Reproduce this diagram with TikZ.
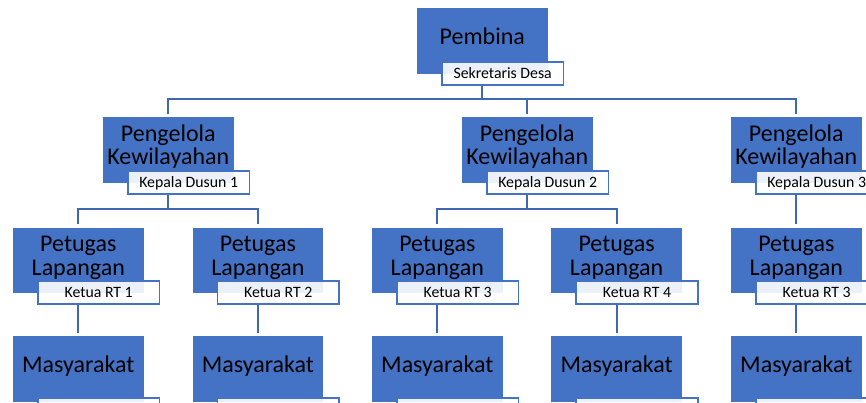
\documentclass[tikz,border=0pt]{standalone}
\usepackage{fontspec}
\setmainfont{Carlito}
\definecolor{boxblue}{HTML}{4472C4}
\definecolor{lineblue}{HTML}{4068B2}

% one unit of the chart: blue box, its title and the white tag below it
% #1 name, #2 x, #3 y (top left), #4 title, #5 offset of the title's last baseline,
% #6 tag text, #7 tag offset from the box top
\newcommand\orgunit[7]{%
  \node[unit] (#1) at (#2,#3) {};
  \node[ttl] (#1t) at ([yshift=-#5pt]#1.north) {#4};
  \node[tag] (#1l) at ([xshift=24.3pt,yshift=-#7pt]#1.north west) {#6};
}

\begin{document}
\begin{tikzpicture}[x=1pt,y=-1pt,
  unit/.style={fill=boxblue, draw=none, minimum width=130.8pt,
    minimum height=65.5pt, inner sep=0pt, anchor=north west},
  ttl/.style={font=\fontsize{24}{23.4}\selectfont, align=center,
    anchor=base, inner sep=0pt, text=black},
  tag/.style={fill=white, fill opacity=0.9, text opacity=1, draw=boxblue,
    line width=1.8pt, minimum width=121.5pt, minimum height=23pt,
    inner sep=0pt, anchor=north west, text height=11.4pt, text depth=1pt,
    font=\fontsize{15.8}{18}\selectfont},
  conn/.style={draw=lineblue, line width=2pt}]

\useasboundingbox (0,0) rectangle (866,403);
\clip (0,0) rectangle (866,403);

% top
\orgunit{pem}{416.7}{8.3}{Pembina}{36.7}{Sekretaris Desa}{52.5}

% second row
\orgunit{pg1}{102.7}{117.3}{Pengelola\\Kewilayahan}{47.7}{Kepala Dusun 1}{52.5}
\orgunit{pg2}{461.7}{117.3}{Pengelola\\Kewilayahan}{47.7}{Kepala Dusun 2}{52.5}
\orgunit{pg3}{730.7}{117.3}{Pengelola\\Kewilayahan}{47.7}{Kepala Dusun 3}{52.5}

% third row
\orgunit{pt1}{12.7}{227.3}{Petugas\\Lapangan}{47.7}{Ketua RT 1}{52.5}
\orgunit{pt2}{192.3}{227.3}{Petugas\\Lapangan}{47.7}{Ketua RT 2}{52.5}
\orgunit{pt3}{371.7}{227.3}{Petugas\\Lapangan}{47.7}{Ketua RT 3}{52.5}
\orgunit{pt4}{551}{227.3}{Petugas\\Lapangan}{47.7}{Ketua RT 4}{52.5}
\orgunit{pt5}{730.7}{227.3}{Petugas\\Lapangan}{47.7}{Ketua RT 3}{52.5}

% bottom row
\foreach \i/\x in {1/12.7,2/192.3,3/371.7,4/551,5/730.7}{
  \orgunit{ms\i}{\x}{336}{Masyarakat}{36.7}{}{61.3}
}

% connectors
\coordinate (b0) at (0,99);
\coordinate (b1) at (0,209);

\draw[conn] (pem.center |- peml.south) -- (pem.center |- b0);
\draw[conn] ([yshift=3pt]pg1.north) -- (pg1.north |- b0)
  -- (pg3.north |- b0) -- ([yshift=3pt]pg3.north);
\draw[conn] (pg2.north |- b0) -- ([yshift=3pt]pg2.north);

\draw[conn] (pg1.center |- pg1l.south) -- (pg1.center |- b1);
\draw[conn] ([yshift=3pt]pt1.north) -- (pt1.north |- b1)
  -- (pt2.north |- b1) -- ([yshift=3pt]pt2.north);

\draw[conn] (pg2.center |- pg2l.south) -- (pg2.center |- b1);
\draw[conn] ([yshift=3pt]pt3.north) -- (pt3.north |- b1)
  -- (pt4.north |- b1) -- ([yshift=3pt]pt4.north);

\draw[conn] (pg3.center |- pg3l.south) -- ([yshift=3pt]pt5.north);

\foreach \i in {1,...,5}{
  \draw[conn] (pt\i.center |- pt\i l.south) -- ([yshift=3pt]ms\i.north);
}
\end{tikzpicture}
\end{document}
